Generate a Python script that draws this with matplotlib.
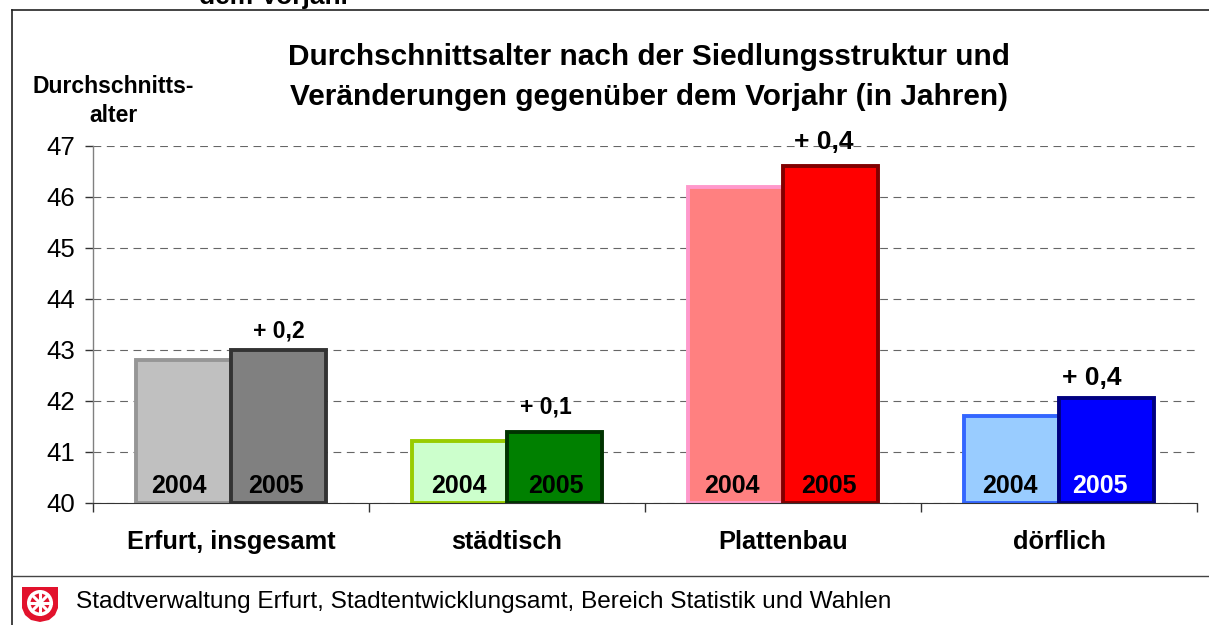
import numpy as np
import matplotlib
matplotlib.use('Agg')
import matplotlib.pyplot as plt
from matplotlib.patches import Circle, Polygon

plt.rcParams['font.family'] = ['Liberation Sans', 'DejaVu Sans']

categories = ['Erfurt, insgesamt', 'städtisch', 'Plattenbau', 'dörflich']
werte_2004 = [42.8, 41.22, 46.2, 41.7]
werte_2005 = [43.0, 41.4, 46.6, 42.05]
changes = ['+ 0,2', '+ 0,1', '+ 0,4', '+ 0,4']
fill_2004 = ['#c0c0c0', '#ccffcc', '#ff8080', '#99ccff']
edge_2004 = ['#969696', '#99cc00', '#ff99cc', '#3366ff']
fill_2005 = ['#808080', '#008000', '#ff0000', '#0000ff']
edge_2005 = ['#333333', '#003300', '#800000', '#000080']
year_color_2005 = ['black', 'black', 'black', 'white']
yticks = [40, 41, 42, 43, 44, 45, 46, 47]

# label nudges in pixels, the original labels are not centred on the bars
dx_2004 = [-5, -1, -4, -2]
dx_2005 = [-2, 2, -1, -6]
dx_change = [0, -8, -7, -15]
dy_change = [19, 25, 24, 20]
size_change = [16.5, 16.5, 19, 19]

W, H = 1209, 625
fig = plt.figure(figsize=(W / 100, H / 100), dpi=100)
px = 72 / 100  # points per pixel

# overlay in pixel coordinates for frame, footer and logo
bg = fig.add_axes([0, 0, 1, 1], zorder=0)
bg.set_xlim(0, W)
bg.set_ylim(H, 0)
bg.axis('off')
bg.plot([11.5, 11.5], [H, 9.5], color='#222222', lw=1.2)
bg.plot([11.5, W], [9.5, 9.5], color='#222222', lw=1.2)
bg.plot([12, W], [576, 576], color='#444444', lw=1.0)
bg.text(275, 4, 'dem Vorjahr', fontsize=19, fontweight='bold', ha='center', va='baseline', clip_on=False)

# logo
shield = Polygon([(22, 587), (58, 587), (58, 608), (55, 615), (49, 620), (40, 622), (31, 620), (25, 615), (22, 608)],
                 closed=True, fc='#e2122c', ec='none')
bg.add_patch(shield)
bg.add_patch(Circle((40, 603), 13, fc='white', ec='none'))
bg.add_patch(Circle((40, 603), 9.5, fc='#e2122c', ec='none'))
for a in np.arange(0, 180, 45):
    dx, dy = 11 * np.cos(np.radians(a)), 11 * np.sin(np.radians(a))
    bg.plot([40 - dx, 40 + dx], [603 - dy, 603 + dy], color='white', lw=2.2)
bg.add_patch(Circle((40, 603), 3, fc='white', ec='none'))

bg.text(76, 602, 'Stadtverwaltung Erfurt, Stadtentwicklungsamt, Bereich Statistik und Wahlen',
        fontsize=17.55, va='center', ha='left')

# main chart
ax = fig.add_axes([93 / W, 1 - 503 / H, (1197 - 93) / W, (503 - 146) / H], zorder=1)
ax.patch.set_alpha(0)
x = np.arange(len(categories))
bw = 0.343

ax.bar(x - bw / 2, np.array(werte_2004) - 40, bw, bottom=40, color=fill_2004, edgecolor=edge_2004,
       linewidth=2.8, zorder=3)
ax.bar(x + bw / 2, np.array(werte_2005) - 40, bw, bottom=40, color=fill_2005, edgecolor=edge_2005,
       linewidth=2.8, zorder=4)

ax.set_xlim(-0.5, 3.5)
ax.set_ylim(40, 47)
ax.set_yticks(yticks)
ax.set_yticklabels([str(v) for v in yticks], fontsize=18.5)
ax.tick_params(axis='y', length=6, width=1, color='#333333', pad=7)
ax.set_xticks(np.arange(-0.5, 4, 1))
ax.set_xticklabels([])
ax.tick_params(axis='x', length=6.5, width=1, color='#333333')
ax.yaxis.grid(True, color='#666666', linestyle=(0, (7, 5)), linewidth=0.8, zorder=1)
ax.set_axisbelow(True)
for s in ['top', 'right']:
    ax.spines[s].set_visible(False)
ax.spines['left'].set_color('#808080')
ax.spines['left'].set_linewidth(1)
ax.spines['bottom'].set_color('#333333')
ax.spines['bottom'].set_zorder(5)

for i, name in enumerate(categories):
    ax.annotate(name, (x[i], 40), xytext=(0, -39.5 * px), textcoords='offset points', ha='center', va='center',
                fontsize=18.3, fontweight='bold', annotation_clip=False)
    ax.annotate('2004', (x[i] - bw / 2, 40), xytext=(dx_2004[i] * px, 16.5 * px), textcoords='offset points',
                ha='center', va='center', fontsize=18, fontweight='bold', zorder=6)
    ax.annotate('2005', (x[i] + bw / 2, 40), xytext=(dx_2005[i] * px, 16.5 * px), textcoords='offset points',
                ha='center', va='center', fontsize=18, fontweight='bold', color=year_color_2005[i], zorder=6)
    ax.annotate(changes[i], (x[i] + bw / 2, werte_2005[i]), xytext=(dx_change[i] * px, dy_change[i] * px),
                textcoords='offset points', ha='center', va='center', fontsize=size_change[i],
                fontweight='bold', zorder=7, annotation_clip=False)

bg.text(649, 77, 'Durchschnittsalter nach der Siedlungsstruktur und\nVeränderungen gegenüber dem Vorjahr (in Jahren)',
        fontsize=21.4, fontweight='bold', ha='center', va='center', linespacing=1.56)
bg.text(113, 101, 'Durchschnitts-\nalter', fontsize=16.5, fontweight='bold', ha='center', va='center',
        linespacing=1.35)

fig.savefig('out.png', dpi=100)
